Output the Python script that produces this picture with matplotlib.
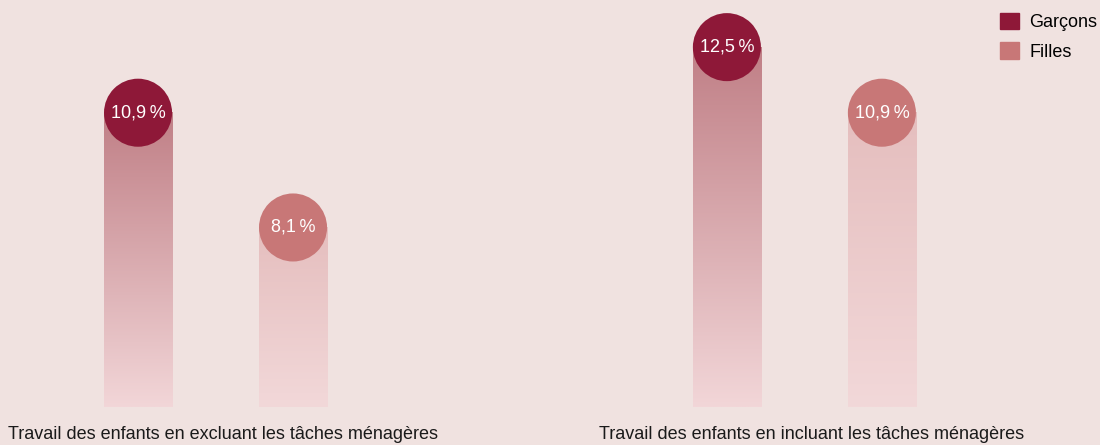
import numpy as np
import matplotlib.pyplot as plt
from matplotlib.patches import Patch
from matplotlib.colors import LinearSegmentedColormap

# data
groups = ["Travail des enfants en excluant les tâches ménagères",
          "Travail des enfants en incluant les tâches ménagères"]
series = ["Garçons", "Filles"]
garcons = [10.9, 12.5]
filles = [8.1, 10.9]

# styling
BG = "#F0E2E0"
circle_colors = ["#8E1838", "#C87777"]
grad_top = ["#C07F86", "#E5BEBE"]
grad_bottom = ["#F2D6D8", "#F2D8D9"]

plt.rcParams['font.family'] = ['Liberation Sans', 'DejaVu Sans']

fig = plt.figure(figsize=(11, 4.45), dpi=100, facecolor=BG)
ax = fig.add_axes([0, 38 / 445, 1, 407 / 445])
ax.set_facecolor(BG)

ymin, ymax = 3.72, 13.65
offset = 0.1316
width = 0.1155
x = np.arange(len(groups))

for s, vals in enumerate([garcons, filles]):
    cmap = LinearSegmentedColormap.from_list(f"g{s}", [grad_bottom[s], grad_top[s]])
    grad = np.linspace(1, 0, 256).reshape(-1, 1)
    xs = x + (offset if s else -offset)
    for xi, v in zip(xs, vals):
        ax.imshow(grad, cmap=cmap, aspect="auto", interpolation="bilinear",
                  extent=(xi - width / 2, xi + width / 2, ymin, v), zorder=1)
    ax.scatter(xs, vals, s=2400, color=circle_colors[s], edgecolors="none", zorder=3)
    for xi, v in zip(xs, vals):
        ax.text(xi, v, f"{v:.1f}".replace(".", ",") + "\u2009%", color="white",
                ha="center", va="center", fontsize=13, zorder=4)

ax.set_xlim(-0.366, 1.502)
ax.set_ylim(ymin, ymax)
ax.set_xticks(x + 0.012)
ax.set_xticklabels(groups, fontsize=13, color="#1a1a1a")
ax.tick_params(axis="x", length=0, pad=14)
ax.set_yticks([])
for sp in ax.spines.values():
    sp.set_visible(False)

handles = [Patch(color=c, label=l) for c, l in zip(circle_colors, series)]
fig.legend(handles=handles, loc="upper right", bbox_to_anchor=(1.009, 1.0),
           frameon=False, fontsize=13, handlelength=1.05, handleheight=1.05,
           handletextpad=0.55, labelspacing=0.62, borderaxespad=0.3)

fig.savefig("out.png", dpi=100, facecolor=BG)
